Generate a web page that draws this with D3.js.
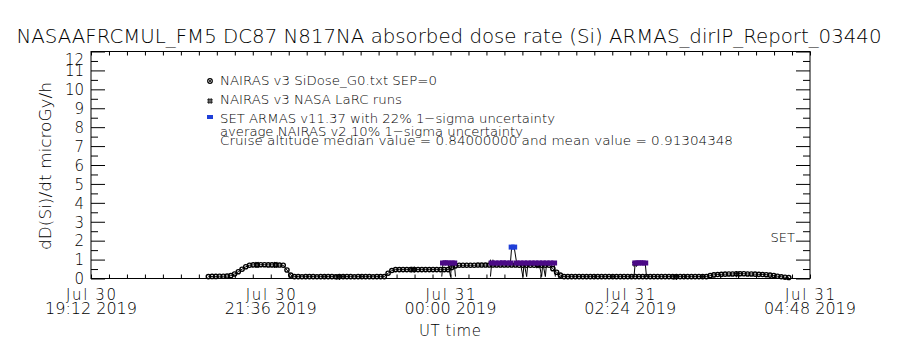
<!DOCTYPE html>
<html><head><meta charset="utf-8">
<script src="https://cdn.jsdelivr.net/npm/d3@7"></script>
<style>
body{margin:0;background:#fff}
svg{display:block}
text{font-family:"DejaVu Sans",sans-serif;font-weight:200;fill:#000}
</style>
</head><body>
<svg id="c" width="900" height="350"></svg>
<script>
// ---------- data ----------
const titleText = "NASAAFRCMUL_FM5 DC87 N817NA absorbed dose rate (Si) ARMAS_dirIP_Report_03440";
const yTitle = "dD(Si)/dt microGy/h";
const xTitle = "UT time";
const xDomain = ["2019-07-30T19:12Z", "2019-07-31T04:48Z"];
const xTickTimes = ["2019-07-30T19:12Z","2019-07-30T21:36Z","2019-07-31T00:00Z","2019-07-31T02:24Z","2019-07-31T04:48Z"];
const xTickLine1 = ["Jul 30","Jul 30","Jul 31","Jul 31","Jul 31"];
const xTickLine2 = ["19:12 2019","21:36 2019","00:00 2019","02:24 2019","04:48 2019"];
const xMinorPerMajor = 10;
const yDomain = [0, 12];
const yTickValues = [0,1,2,3,4,5,6,7,8,9,10,11,12];
const legendLabels = [
  "NAIRAS v3 SiDose_G0.txt SEP=0",
  "NAIRAS v3 NASA LaRC runs",
  "SET ARMAS v11.37 with 22% 1\u2212sigma uncertainty"
];
const noteLine1 = "average NAIRAS v2 10% 1\u2212sigma uncertainty";
const noteLine2 = "Cruise altitude median value = 0.84000000 and mean value = 0.91304348";
const setLabel = "SET";

// NAIRAS v3 SiDose_G0 : regular samples
const sidoseStart = "2019-07-30T20:46Z";
const sidoseStepMin = 3;
const sidoseValues = [
  0.10,0.11,0.11,0.12,0.12,0.13,0.15,
  0.24,0.36,0.49,0.62,
  0.70,0.72,0.72,0.73,0.73,0.72,0.72,0.72,0.71,0.70,
  0.45,0.18,
  0.10,0.10,0.09,0.10,0.10,0.10,0.09,0.10,0.10,0.10,0.10,0.09,0.10,
  0.10,0.10,0.10,0.09,0.10,0.10,0.10,0.10,0.09,0.10,0.10,0.10,
  0.28,0.42,
  0.47,0.47,0.47,0.47,0.47,0.47,0.47,0.47,0.47,0.47,0.47,0.47,0.47,0.47,0.47,
  0.58,0.67,
  0.70,0.70,0.70,0.70,0.70,0.71,0.71,0.71,0.71,0.71,0.71,0.71,0.71,
  0.71,0.71,0.71,0.70,0.70,0.70,0.70,0.70,0.70,0.70,0.70,0.70,
  0.52,0.33,0.18,
  0.10,0.10,0.10,0.10,0.10,0.10,0.10,0.10,0.10,0.10,0.10,0.10,0.10,
  0.10,0.10,0.10,0.10,0.10,0.10,0.10,0.10,0.10,0.10,0.10,0.10,0.10,
  0.10,0.10,0.10,0.10,0.10,0.10,0.10,0.10,0.10,0.10,0.10,0.10,0.10,
  0.15,0.19,0.21,0.22,0.23,0.24,0.24,0.25,0.25,0.25,0.24,0.24,0.23,0.22,0.21,0.20,0.18,0.16,
  0.12,0.09,0.07,0.05
];

// NAIRAS v3 NASA LaRC runs
const larcTimes = ["2019-07-30T21:25Z","2019-07-30T21:40Z","2019-07-30T22:30Z","2019-07-30T23:30Z",
                   "2019-07-31T00:33Z","2019-07-31T01:10Z","2019-07-31T02:28Z","2019-07-31T03:00Z","2019-07-31T03:50Z"];
const larcValues = [0.72,0.72,0.08,0.47,0.84,0.70,0.78,0.08,0.22];

// SET ARMAS v11.37
const armasTimes = [
  "2019-07-30T23:53Z","2019-07-30T23:54Z","2019-07-30T23:56Z","2019-07-30T23:58Z","2019-07-31T00:00Z",
  "2019-07-31T00:01Z","2019-07-31T00:03Z","2019-07-31T00:04Z",
  "2019-07-31T00:32Z","2019-07-31T00:33Z","2019-07-31T00:36Z","2019-07-31T00:39Z","2019-07-31T00:42Z",
  "2019-07-31T00:45Z","2019-07-31T00:48Z","2019-07-31T00:49Z","2019-07-31T00:51Z","2019-07-31T00:53Z",
  "2019-07-31T00:56Z","2019-07-31T00:58Z","2019-07-31T00:59Z","2019-07-31T01:01Z","2019-07-31T01:02Z",
  "2019-07-31T01:05Z","2019-07-31T01:08Z","2019-07-31T01:11Z","2019-07-31T01:13Z","2019-07-31T01:14Z",
  "2019-07-31T01:16Z","2019-07-31T01:17Z","2019-07-31T01:20Z","2019-07-31T01:23Z","2019-07-31T01:24Z",
  "2019-07-31T02:27Z","2019-07-31T02:28Z","2019-07-31T02:30Z","2019-07-31T02:32Z","2019-07-31T02:34Z",
  "2019-07-31T02:36Z","2019-07-31T02:37Z"
];
const armasValues = [
  0.10,0.82,0.83,0.82,0.10,
  0.82,0.82,0.10,
  0.10,0.82,0.82,0.82,0.83,
  0.82,0.82,1.66,1.66,0.82,
  0.82,0.10,0.82,0.10,0.82,
  0.82,0.82,0.82,0.10,0.82,
  0.10,0.82,0.82,0.82,0.10,
  0.10,0.82,0.82,0.83,0.82,
  0.82,0.10
];

// ---------- drawing ----------
const svg = d3.select("#c");
const L = 91, R = 810, T = 51.5, B = 278.5;
const x = d3.scaleUtc().domain(xDomain.map(d => new Date(d))).range([L, R]);
const y = d3.scaleLinear().domain(yDomain).range([B, T]);
const purple = "#4b0a86", blue = "#1f3fd8";
const armasColor = d3.scaleThreshold().domain([1.2]).range([purple, blue]);

// frame
svg.append("rect").attr("x", L).attr("y", T).attr("width", R - L).attr("height", B - T)
  .attr("fill", "none").attr("stroke", "#000").attr("stroke-width", 1);

// x minor ticks
const t0 = new Date(xDomain[0]).getTime(), t1 = new Date(xDomain[1]).getTime();
const majorStep = new Date(xTickTimes[1]).getTime() - new Date(xTickTimes[0]).getTime();
const minorTimes = d3.range(t0, t1 + 1, majorStep / xMinorPerMajor).map(d => new Date(d));

function styleAxis(g) {
  g.select(".domain").remove();
  g.selectAll("line").attr("stroke", "#000").attr("stroke-width", 1);
}
svg.append("g").attr("transform", `translate(0,${B})`)
  .call(d3.axisBottom(x).tickValues(minorTimes).tickSize(-4).tickFormat(""))
  .call(styleAxis);
svg.append("g").attr("transform", `translate(0,${T})`)
  .call(d3.axisTop(x).tickValues(minorTimes).tickSize(-4).tickFormat(""))
  .call(styleAxis);

// y ticks
const yMinor = d3.range(0.5, 12, 1);
svg.append("g").attr("transform", `translate(${L},0)`)
  .call(d3.axisLeft(y).tickValues(yTickValues).tickSize(-14).tickPadding(7).tickFormat(d3.format("d")))
  .call(styleAxis)
  .call(g => g.selectAll("text").attr("font-size", 15).attr("font-family", "DejaVu Sans")
     .attr("font-weight", 200).attr("fill", "#000")
     .attr("dy", d => d === 12 ? "0.85em" : "0.35em"));
svg.append("g").attr("transform", `translate(${L},0)`)
  .call(d3.axisLeft(y).tickValues(yMinor).tickSize(-7).tickFormat(""))
  .call(styleAxis);
svg.append("g").attr("transform", `translate(${R},0)`)
  .call(d3.axisRight(y).tickValues(yTickValues).tickSize(-14).tickFormat(""))
  .call(styleAxis);
svg.append("g").attr("transform", `translate(${R},0)`)
  .call(d3.axisRight(y).tickValues(yMinor).tickSize(-7).tickFormat(""))
  .call(styleAxis);

// x labels
xTickTimes.forEach((d, i) => {
  const xx = x(new Date(d));
  svg.append("text").attr("x", xx).attr("y", 300).attr("text-anchor", "middle")
    .attr("font-size", 15).attr("textLength", 50).attr("lengthAdjust", "spacing").text(xTickLine1[i]);
  svg.append("text").attr("x", xx).attr("y", 314).attr("text-anchor", "middle")
    .attr("font-size", 15).attr("textLength", 92).attr("lengthAdjust", "spacingAndGlyphs").text(xTickLine2[i]);
});
svg.append("text").attr("x", 450).attr("y", 336).attr("text-anchor", "middle")
  .attr("font-size", 15).attr("textLength", 62).text(xTitle);

// title
svg.append("text").attr("x", 449).attr("y", 43).attr("text-anchor", "middle")
  .attr("font-size", 19).attr("textLength", 865).attr("lengthAdjust", "spacingAndGlyphs").text(titleText);

// y title
svg.append("text").attr("transform", "translate(51,166) rotate(-90)").attr("text-anchor", "middle")
  .attr("font-size", 15).attr("textLength", 168).attr("lengthAdjust", "spacingAndGlyphs").text(yTitle);

// ---------- series ----------
const sStart = new Date(sidoseStart).getTime();
const sidose = sidoseValues.map((v, i) => ({t: new Date(sStart + i * sidoseStepMin * 60000), v}));
const line = d3.line().x(d => x(d.t)).y(d => y(d.v));

svg.append("path").datum(sidose).attr("d", line).attr("fill", "none")
  .attr("stroke", "#000").attr("stroke-width", 1);

svg.append("g").selectAll("circle").data(sidose).join("circle")
  .attr("cx", d => x(d.t)).attr("cy", d => y(d.v)).attr("r", 2.1)
  .attr("fill", "none").attr("stroke", "#000").attr("stroke-width", 1.4);

// LaRC '#'
function hash(g, cx, cy, s) {
  g.append("path").attr("d",
    `M${cx - s},${cy - s / 2.5}H${cx + s}M${cx - s},${cy + s / 2.5}H${cx + s}` +
    `M${cx - s / 2.5},${cy - s}V${cy + s}M${cx + s / 2.5},${cy - s}V${cy + s}`)
    .attr("stroke", "#000").attr("stroke-width", 1).attr("fill", "none");
}
const gL = svg.append("g");
larcTimes.forEach((d, i) => hash(gL, x(new Date(d)), y(larcValues[i]), 3));

// ARMAS
const armas = armasTimes.map((d, i) => ({t: new Date(d), v: armasValues[i]}));
const segs = [];
armas.forEach((d, i) => {
  if (i === 0 || d.t - armas[i - 1].t > 10 * 60000) segs.push([]);
  segs[segs.length - 1].push(d);
});
segs.forEach(s => svg.append("path").datum(s).attr("d", line).attr("fill", "none")
  .attr("stroke", "#000").attr("stroke-width", 1));
svg.append("g").selectAll("rect").data(armas.filter(d => d.v >= 0.3)).join("rect")
  .attr("x", d => x(d.t) - 3).attr("y", d => y(d.v) - 2.5).attr("width", 6).attr("height", 5)
  .attr("fill", d => armasColor(d.v));

// legend
const lg = svg.append("g");
lg.append("circle").attr("cx", 210).attr("cy", 81).attr("r", 2.3)
  .attr("fill", "none").attr("stroke", "#000").attr("stroke-width", 1.2);
lg.append("path").attr("d", "M208.4,79.4L211.6,82.6M208.4,82.6L211.6,79.4")
  .attr("stroke", "#000").attr("stroke-width", 0.8);
hash(lg, 210, 101, 2.8);
lg.append("rect").attr("x", 207).attr("y", 115).attr("width", 6).attr("height", 4).attr("fill", blue);
const legW = [217, 182, 335];
const legY = [85, 104, 123];
legendLabels.forEach((s, i) => {
  lg.append("text").attr("x", 220).attr("y", legY[i]).attr("font-size", 13)
    .attr("textLength", legW[i]).attr("lengthAdjust", "spacingAndGlyphs").text(s);
});
lg.append("text").attr("x", 220).attr("y", 136).attr("font-size", 13)
  .attr("textLength", 303).attr("lengthAdjust", "spacingAndGlyphs").text(noteLine1);
lg.append("text").attr("x", 220).attr("y", 145).attr("font-size", 13)
  .attr("textLength", 513).attr("lengthAdjust", "spacingAndGlyphs").text(noteLine2);

// SET label at right axis
svg.append("text").attr("x", 795).attr("y", y(2) + 1).attr("text-anchor", "end")
  .attr("font-size", 13).text(setLabel);
</script>
</body></html>
